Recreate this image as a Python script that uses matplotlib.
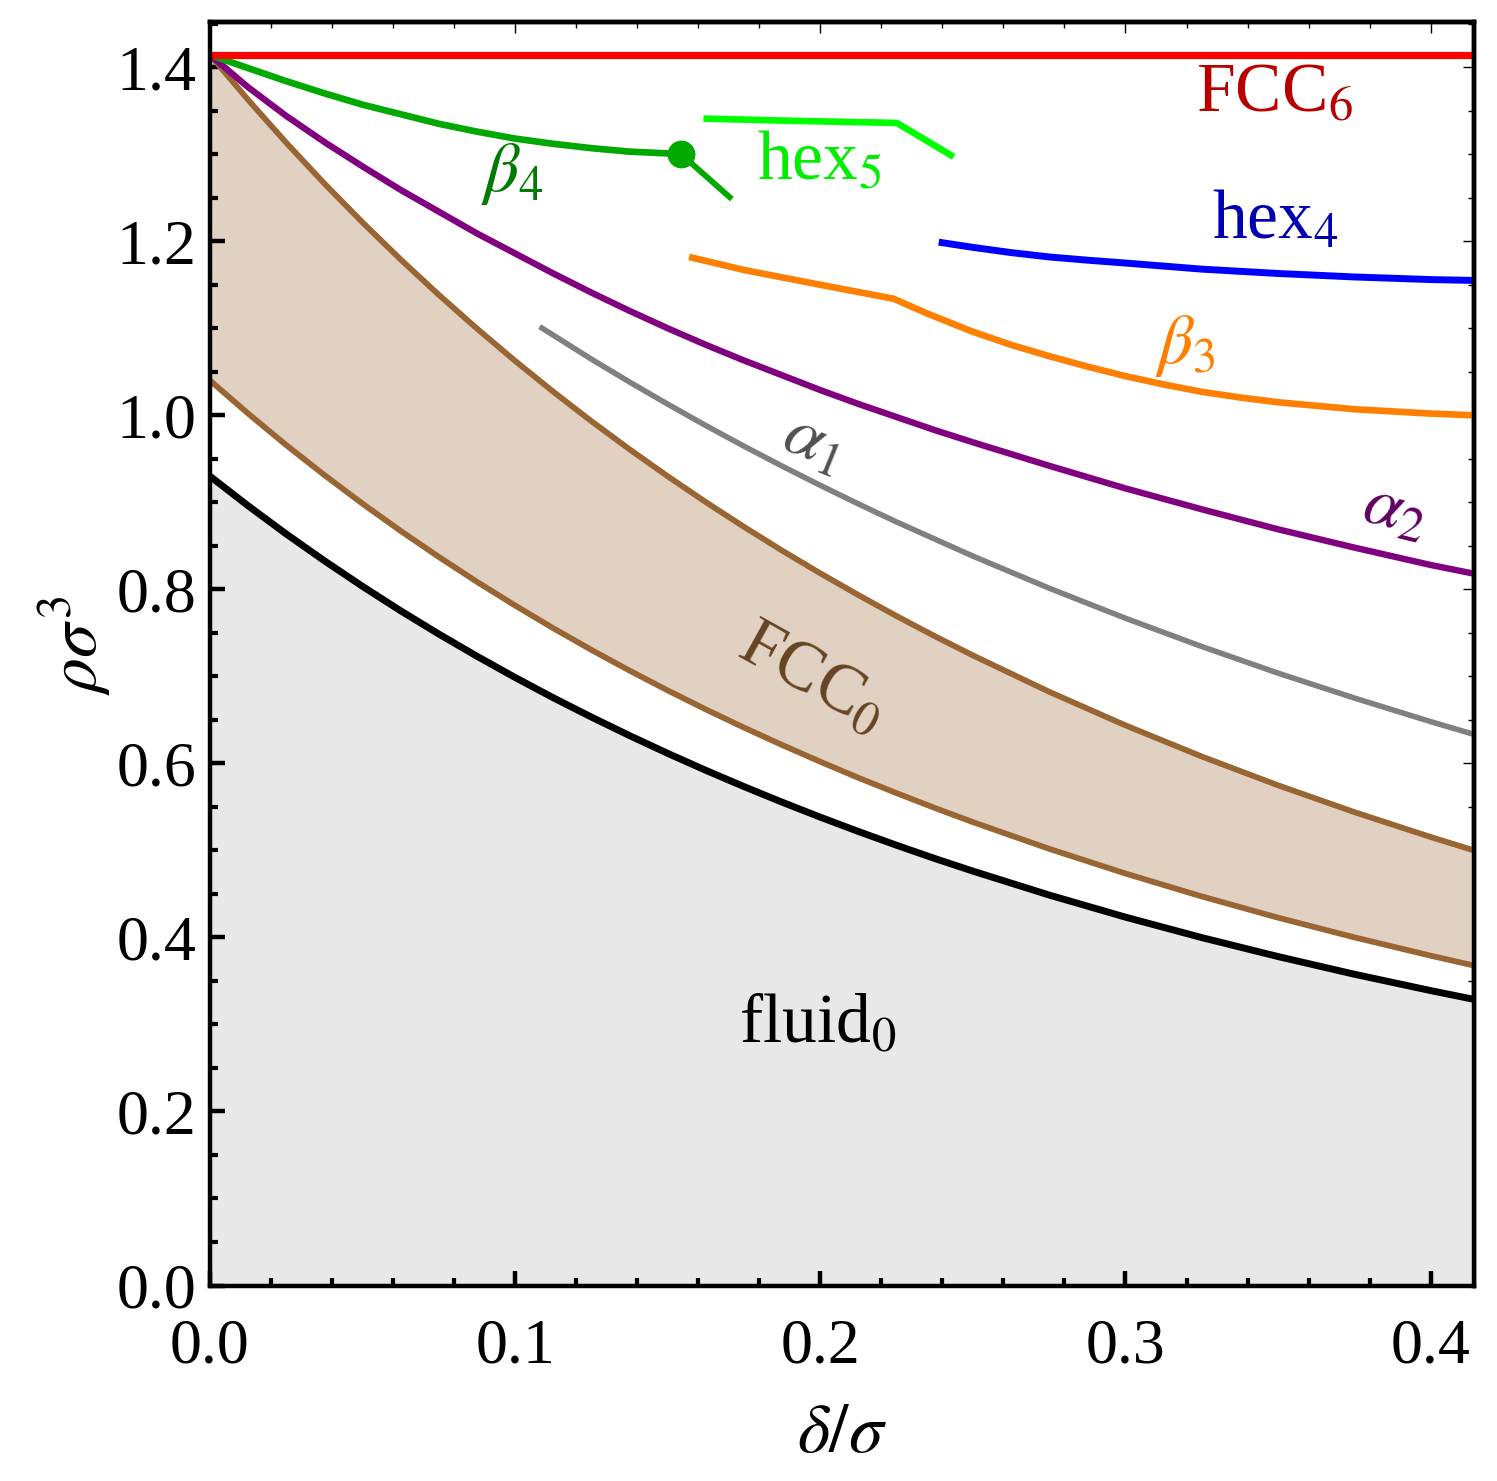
import matplotlib
matplotlib.use("Agg")
import matplotlib.pyplot as plt
from matplotlib.ticker import MultipleLocator, FixedLocator

plt.rcParams['font.family'] = ['Liberation Serif', 'DejaVu Serif']
plt.rcParams['mathtext.fontset'] = 'stix'

# ---------------- data ----------------
XMAX = 0.4142
grid = [0.0, 0.0125, 0.025, 0.0375, 0.05, 0.0625, 0.075, 0.0875, 0.1, 0.1125,
        0.125, 0.1375, 0.15, 0.1625, 0.175, 0.1875, 0.2, 0.2125, 0.225, 0.2375,
        0.25, 0.275, 0.3, 0.325, 0.35, 0.375, 0.4, 0.4142]

fluid_y = [0.930, 0.8960, 0.8636, 0.8328, 0.8034, 0.7753, 0.7486, 0.7231, 0.6987, 0.6754,
           0.6532, 0.6319, 0.6115, 0.5920, 0.5733, 0.5554, 0.5382, 0.5217, 0.5059, 0.4907,
           0.4762, 0.4487, 0.4233, 0.3998, 0.3780, 0.3577, 0.3389, 0.3288]
fcc0_low = [1.040, 1.0020, 0.9657, 0.9313, 0.8984, 0.8671, 0.8372, 0.8086, 0.7814, 0.7553,
            0.7304, 0.7066, 0.6838, 0.6620, 0.6411, 0.6211, 0.6019, 0.5834, 0.5658, 0.5488,
            0.5325, 0.5018, 0.4734, 0.4471, 0.4227, 0.4001, 0.3790, 0.3677]
fcc0_high = [1.4142, 1.3625, 1.3132, 1.2663, 1.2216, 1.1790, 1.1384, 1.0996, 1.0625, 1.0271,
             0.9932, 0.9609, 0.9299, 0.9002, 0.8718, 0.8445, 0.8184, 0.7934, 0.7693, 0.7462,
             0.7241, 0.6823, 0.6437, 0.6079, 0.5748, 0.5440, 0.5154, 0.5000]
alpha2_y = [1.4142, 1.377, 1.344, 1.314, 1.286, 1.259, 1.234, 1.209, 1.186, 1.163,
            1.141, 1.120, 1.100, 1.081, 1.063, 1.046, 1.029, 1.013, 0.998, 0.983,
            0.969, 0.942, 0.916, 0.892, 0.869, 0.848, 0.828, 0.818]

alpha1_x = [0.108, 0.125, 0.1375, 0.15, 0.1625, 0.175, 0.1875, 0.2, 0.2125, 0.225,
            0.25, 0.275, 0.3, 0.325, 0.35, 0.375, 0.4, 0.4142]
alpha1_y = [1.102, 1.0645, 1.0382, 1.0128, 0.9882, 0.9645, 0.9416, 0.9195, 0.8981, 0.8774,
            0.8382, 0.8013, 0.7668, 0.7343, 0.7037, 0.6751, 0.6480, 0.6333]

beta4_x = [0.0, 0.0125, 0.025, 0.0375, 0.05, 0.0625, 0.075, 0.0875, 0.1, 0.1125,
           0.125, 0.1375, 0.15, 0.1544]
beta4_y = [1.4142, 1.399, 1.384, 1.370, 1.357, 1.346, 1.335, 1.326, 1.318, 1.312,
           1.307, 1.303, 1.301, 1.300]
beta4_tail_x = [0.1544, 0.171]
beta4_tail_y = [1.300, 1.2485]

hex5_x = [0.1617, 0.19, 0.2251, 0.2437]
hex5_y = [1.341, 1.3385, 1.336, 1.297]

hex4_x = [0.2388, 0.25, 0.2625, 0.275, 0.2875, 0.3, 0.325, 0.35, 0.375, 0.4, 0.4142]
hex4_y = [1.199, 1.193, 1.187, 1.182, 1.1783, 1.175, 1.168, 1.163, 1.159, 1.156, 1.155]

beta3_x = [0.157, 0.175, 0.2, 0.224, 0.235, 0.25, 0.2625, 0.275, 0.2875, 0.3, 0.3125,
           0.325, 0.3375, 0.35, 0.375, 0.4, 0.4142]
beta3_y = [1.182, 1.167, 1.150, 1.134, 1.117, 1.096, 1.081, 1.068, 1.056, 1.045, 1.0355,
           1.027, 1.0205, 1.015, 1.007, 1.002, 1.000]

fcc6_x = [0.0, 0.4142]
fcc6_y = [1.4142, 1.4142]

x_ticks = [0.0, 0.1, 0.2, 0.3, 0.4]
x_ticklabels = ["0.0", "0.1", "0.2", "0.3", "0.4"]
y_ticks = [0.0, 0.2, 0.4, 0.6, 0.8, 1.0, 1.2, 1.4]
y_ticklabels = ["0.0", "0.2", "0.4", "0.6", "0.8", "1.0", "1.2", "1.4"]

# ---------------- figure ----------------
W, H = 1497, 1481
fig = plt.figure(figsize=(W / 100, H / 100), dpi=100)
ax = fig.add_axes([210 / W, 1 - 1285.5 / H, (1474 - 210) / W, (1285.5 - 22) / H])
ax.set_xlim(0, XMAX)
ax.set_ylim(0, 1.452)

# fills
ax.fill_between(grid, 0, fluid_y, color='#e8e8e8', lw=0, zorder=1)
ax.fill_between(grid, fcc0_low, fcc0_high, color='#e1d1c2', lw=0, zorder=1)

brown = '#996633'
kw = dict(solid_joinstyle='round', solid_capstyle='butt')
ax.plot(grid, fluid_y, color='black', lw=5.0, zorder=3, **kw)
ax.plot(grid, fcc0_low, color=brown, lw=4.2, zorder=3, **kw)
ax.plot(grid, fcc0_high, color=brown, lw=4.2, zorder=3, **kw)
ax.plot(alpha1_x, alpha1_y, color='#808080', lw=4.0, zorder=3, **kw)
ax.plot(grid, alpha2_y, color='#800080', lw=4.6, zorder=3, **kw)
ax.plot(beta4_x, beta4_y, color='#00a800', lw=4.8, zorder=4, **kw)
ax.plot(beta4_tail_x, beta4_tail_y, color='#00a800', lw=4.2, zorder=4, **kw)
ax.plot([beta4_x[-1]], [beta4_y[-1]], 'o', color='#00a800', ms=19, zorder=5)
ax.plot(hex5_x, hex5_y, color='#00ff00', lw=4.8, zorder=3, **kw)
ax.plot(hex4_x, hex4_y, color='#0000ff', lw=5.0, zorder=3, **kw)
ax.plot(beta3_x, beta3_y, color='#ff8000', lw=4.8, zorder=3, **kw)
ax.plot(fcc6_x, fcc6_y, color='#ff0000', lw=5.2, zorder=4, **kw)

# region labels
fs = 50
ax.text(0.349, 1.369, r'FCC$_6$', color='#b80000', fontsize=fs, ha='center', va='center')
ax.text(0.1996, 1.291, r'hex$_5$', color='#00ee00', fontsize=fs, ha='center', va='center')
ax.text(0.099, 1.277, r'$\beta_4$', color='#007a00', fontsize=fs, ha='center', va='center')
ax.text(0.349, 1.222, r'hex$_4$', color='#0000b0', fontsize=fs, ha='center', va='center')
ax.text(0.3195, 1.080, r'$\beta_3$', color='#ff8000', fontsize=fs, ha='center', va='center')
ax.text(0.1976, 0.968, r'$\alpha_1$', color='#505050', fontsize=fs, ha='center', va='center',
        rotation=-22)
ax.text(0.3883, 0.890, r'$\alpha_2$', color='#600060', fontsize=fs, ha='center', va='center',
        rotation=-14)
ax.text(0.1973, 0.698, r'FCC$_0$', color='#664422', fontsize=fs, ha='center', va='center',
        rotation=-29)
ax.text(0.1992, 0.299, r'fluid$_0$', color='black', fontsize=fs, ha='center', va='center')

# axes styling
for s in ax.spines.values():
    s.set_linewidth(3.2)
    s.set_zorder(10)
ax.xaxis.set_major_locator(FixedLocator(x_ticks))
ax.set_xticklabels(x_ticklabels)
ax.yaxis.set_major_locator(FixedLocator(y_ticks))
ax.set_yticklabels(y_ticklabels)
ax.xaxis.set_minor_locator(MultipleLocator(0.02))
ax.yaxis.set_minor_locator(MultipleLocator(0.05))
ax.tick_params(which='both', direction='in', top=False, right=False, labelsize=46)
ax.tick_params(axis='x', which='major', pad=24)
ax.tick_params(axis='y', which='major', pad=10)
ax.tick_params(which='major', length=11, width=3.2)
ax.tick_params(which='minor', length=6, width=3.0)

top = ax.secondary_xaxis('top')
top.xaxis.set_major_locator(FixedLocator(x_ticks))
top.xaxis.set_minor_locator(MultipleLocator(0.02))
top.tick_params(which='both', direction='in', labeltop=False)
top.tick_params(which='major', length=8, width=1.0)
top.tick_params(which='minor', length=4, width=1.0)
top.spines['top'].set_linewidth(3.2)

right = ax.secondary_yaxis('right')
right.yaxis.set_major_locator(FixedLocator(y_ticks))
right.yaxis.set_minor_locator(MultipleLocator(0.05))
right.tick_params(which='both', direction='in', labelright=False)
right.tick_params(which='major', length=8, width=1.0)
right.tick_params(which='minor', length=4, width=1.0)
right.spines['right'].set_linewidth(3.2)

fig.text(842 / W, 1 - 1435 / H, r'$\delta/\sigma$', fontsize=50, ha='center', va='center')
fig.text(75 / W, 1 - 645 / H, r'$\rho\sigma^3$', fontsize=50, ha='center', va='center',
         rotation=90)

fig.savefig('out.png', dpi=100)
